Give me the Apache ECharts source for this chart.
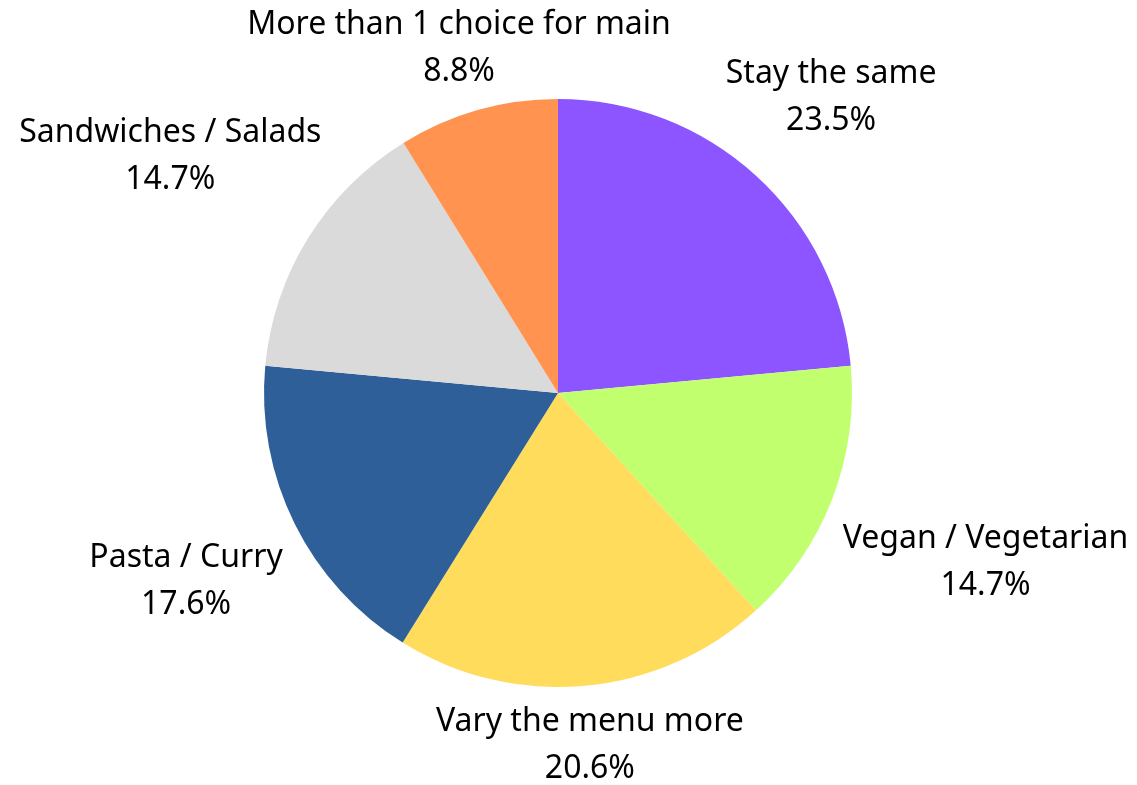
<!DOCTYPE html>
<html>
<head>
<meta charset="utf-8">
<script src="https://cdn.jsdelivr.net/npm/echarts@6/dist/echarts.min.js"></script>
<style>
  html, body { margin: 0; padding: 0; background: #ffffff; }
  #chart { width: 1137px; height: 785px; }
</style>
</head>
<body>
<div id="chart"></div>
<script>
// Survey answers, clockwise from 12 o'clock
const categories = [
  'Stay the same',
  'Vegan / Vegetarian',
  'Vary the menu more',
  'Pasta / Curry',
  'Sandwiches / Salads',
  'More than 1 choice for main'
];
const shares = [23.5, 14.7, 20.6, 17.6, 14.7, 8.8];
const colors = ['#8C55FF', '#C2FF6E', '#FFDC5B', '#2E5F98', '#DADADA', '#FF934F'];

const chart = echarts.init(document.getElementById('chart'), null, { renderer: 'canvas' });

const LABEL_GAP = 19;
const FONT_SIZE = 32;
const LINE_HEIGHT = 47;
const GLYPH_DROP = 4; // glyphs sit a little high inside their line boxes

// Push each label box out along its slice's mid-angle until the nearest
// edge of its glyphs sits LABEL_GAP pixels outside the pie.
function placeLabel(params) {
  const data = chart.getModel().getSeriesByIndex(0).getData();
  const lay = data.getItemLayout(params.dataIndex);
  const mid = (lay.startAngle + lay.endAngle) / 2;
  const ux = Math.cos(mid), uy = Math.sin(mid);
  const hw = params.labelRect.width / 2;
  // trim the empty leading above the first line and below the last one
  const hh = params.labelRect.height / 2 - (LINE_HEIGHT - FONT_SIZE * 0.75) / 2;
  const target = lay.r + LABEL_GAP;
  const dist = t => {
    const dx = Math.max(Math.abs(t * ux) - hw, 0);
    const dy = Math.max(Math.abs(t * uy) - hh, 0);
    return Math.sqrt(dx * dx + dy * dy);
  };
  let lo = 0, hi = target + hw + hh + 10;
  for (let i = 0; i < 60; i++) {
    const m = (lo + hi) / 2;
    if (dist(m) < target) lo = m; else hi = m;
  }
  const t = (lo + hi) / 2;
  return {
    x: lay.cx + t * ux,
    y: lay.cy + t * uy + GLYPH_DROP,
    align: 'center',
    verticalAlign: 'middle'
  };
}

chart.setOption({
  animation: false,
  backgroundColor: '#ffffff',
  series: [{
    type: 'pie',
    center: [558, 393],
    radius: 294,
    startAngle: 90,
    clockwise: true,
    color: colors,
    itemStyle: { borderWidth: 0 },
    label: {
      show: true,
      position: 'outside',
      formatter: p => p.name + '\n' + p.value.toFixed(1) + '%',
      fontFamily: 'Noto Sans',
      fontSize: FONT_SIZE,
      lineHeight: LINE_HEIGHT,
      color: '#000000',
      align: 'center',
      overflow: 'none'
    },
    labelLine: { show: false },
    labelLayout: placeLabel,
    emphasis: { disabled: true },
    data: categories.map((name, i) => ({ name: name, value: shares[i] }))
  }]
});
</script>
</body>
</html>
